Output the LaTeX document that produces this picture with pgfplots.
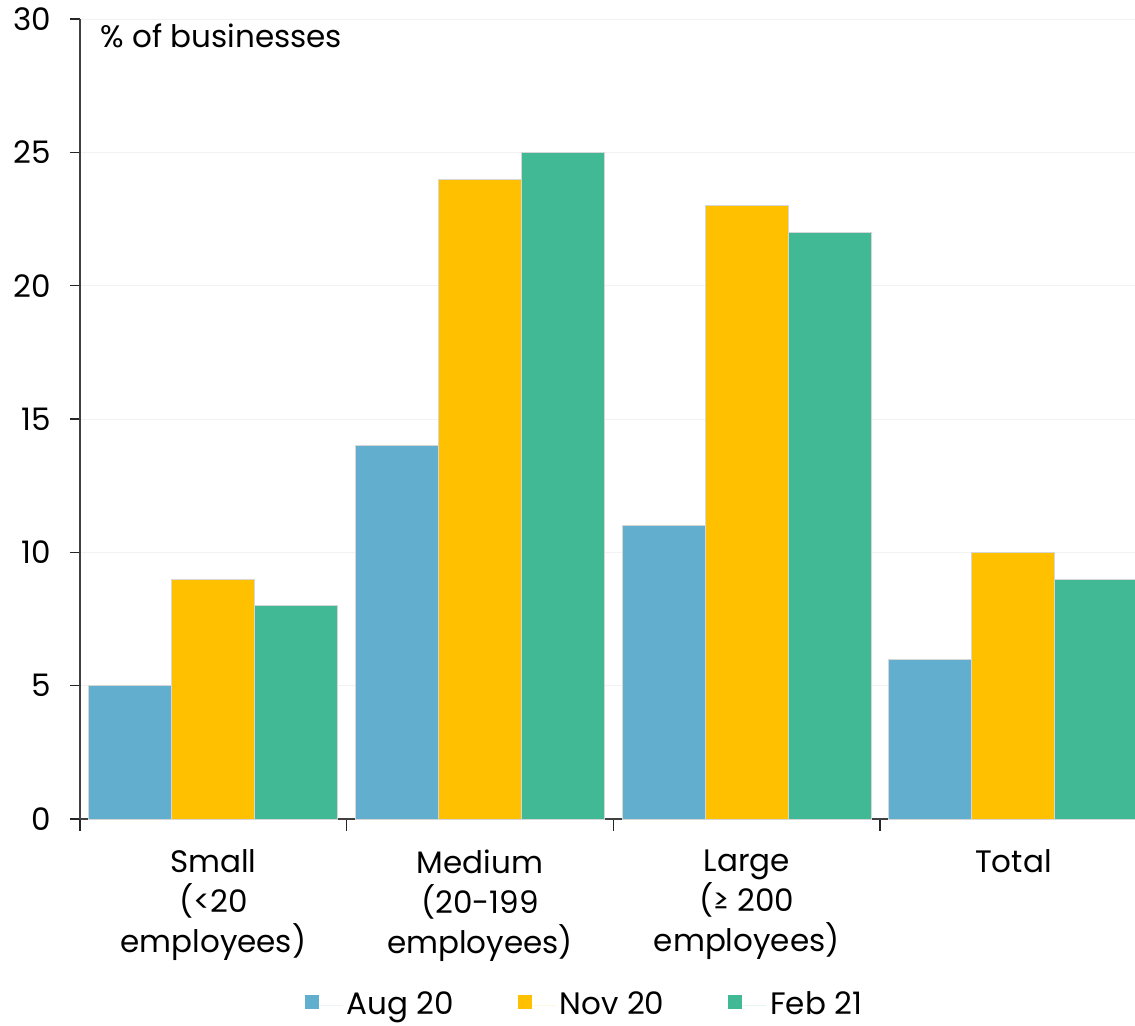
\documentclass[border=0pt]{standalone}
\usepackage{pgfplots}
\pgfplotsset{compat=1.18}
\usepackage{fontspec}
\setmainfont{Poppins}
\definecolor{cblue}{HTML}{62AECE}
\definecolor{cyellow}{HTML}{FFC000}
\definecolor{cgreen}{HTML}{42B995}
\definecolor{cedge}{HTML}{D6D6D6}
\begin{document}
\fontsize{15.5}{20}\selectfont
\begin{tikzpicture}
\path[use as bounding box] (0,0) rectangle (567.5pt,512.5pt);
\begin{axis}[
  at={(40pt,103pt)}, anchor=south west,
  width=527.5pt, height=400pt, scale only axis,
  xmin=-0.5, xmax=3.456, ymin=0, ymax=30,
  axis x line*=bottom, axis y line*=left,
  axis line style={black!75, line width=0.7pt},
  ytick={0,5,...,30},
  ymajorgrids, grid style={black!5, line width=0.5pt},
  tick align=outside,
  major tick length=5pt,
  tick style={black!85, line width=0.7pt},
  xtick={0,1,2,3},
  x tick style={draw=none},
  minor xtick={-0.5,0.5,1.5,2.5},
  minor x tick style={draw=black!85, line width=0.7pt},
  minor tick length=6pt,
  xticklabels={Small\\(<20\\employees), Medium\\(20-199\\employees), Large\\(≥ 200\\employees), Total},
  xticklabel style={align=center, font=\fontsize{15.5}{20}\selectfont, yshift=-5pt},
  yticklabel style={font=\fontsize{15.5}{20}\selectfont, xshift=-4pt},
  /pgf/number format/assume math mode=true,
  legend columns=3,
  legend style={at={(0.479,-0.2325)}, anchor=center, draw=none, fill=none,
    font=\fontsize{15.5}{20}\selectfont,
    /tikz/every even column/.append style={column sep=30pt}},
  legend image code/.code={\fill[#1, draw=none] (0pt,-2pt) rectangle (7pt,5pt); \path[draw=none] (0pt,0pt) -- (19pt,0pt);},
  clip=true,
]
\addplot[ybar, bar width=0.311, bar shift=-0.311, fill=cblue, draw=cedge, line width=0.5pt]
  coordinates {(0,5) (1,14) (2,11) (3,6)};
\addlegendentry{Aug 20}
\addplot[ybar, bar width=0.311, bar shift=0, fill=cyellow, draw=cedge, line width=0.5pt]
  coordinates {(0,9) (1,24) (2,23) (3,10)};
\addlegendentry{Nov 20}
\addplot[ybar, bar width=0.311, bar shift=0.311, fill=cgreen, draw=cedge, line width=0.5pt]
  coordinates {(0,8) (1,25) (2,22) (3,9)};
\addlegendentry{Feb 21}
\node[anchor=base west, inner sep=0pt, font=\fontsize{15.5}{20}\selectfont] at (rel axis cs:0.019,0.965) {\% of businesses};
\end{axis}
\end{tikzpicture}
\end{document}
